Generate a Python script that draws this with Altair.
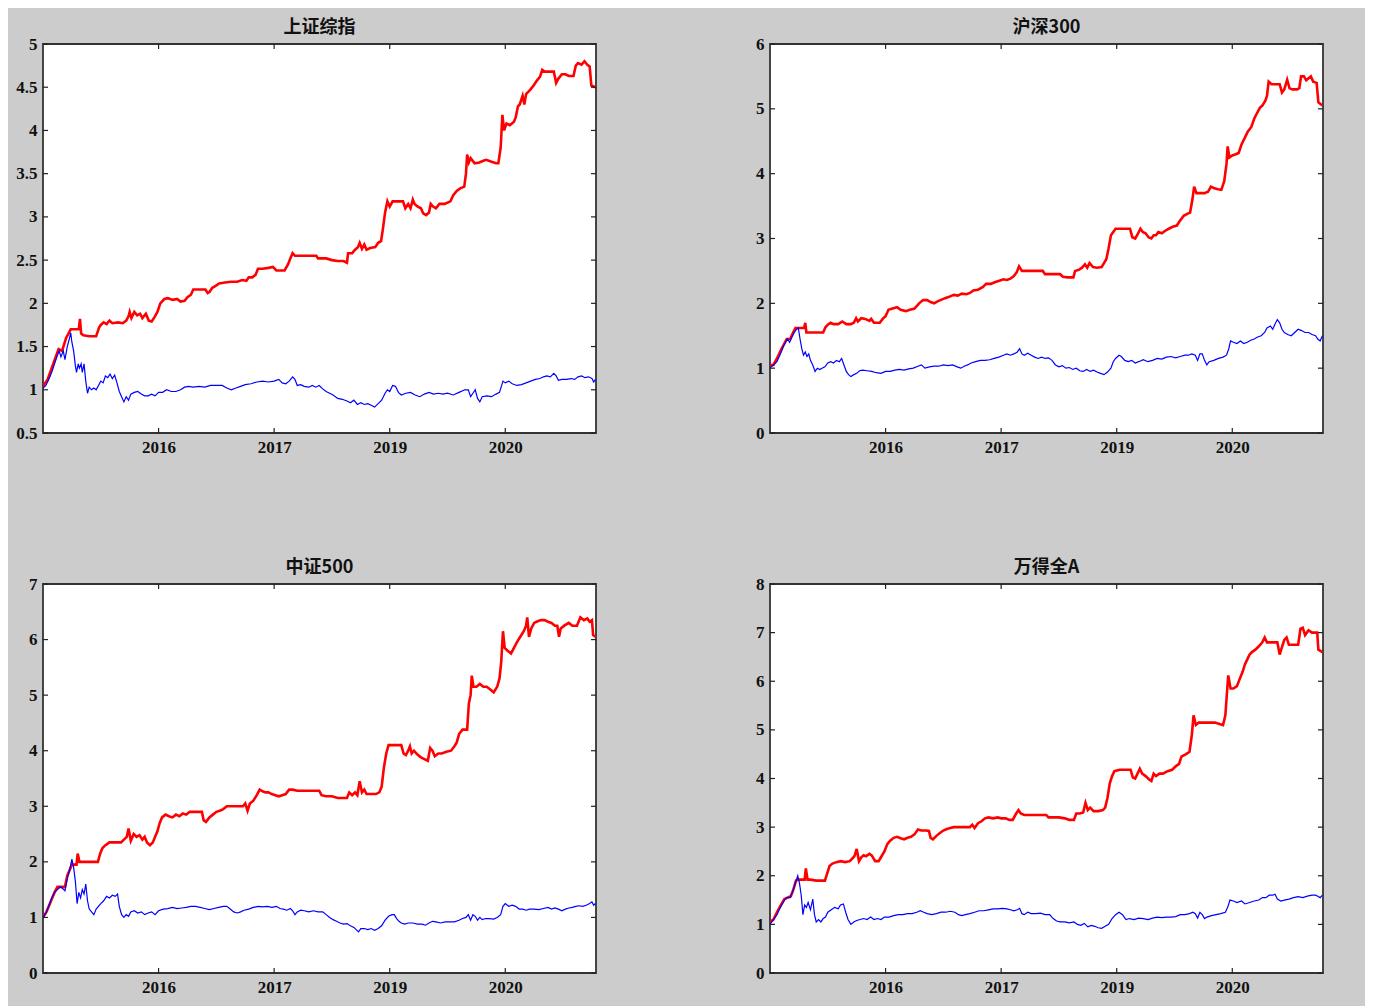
import altair as alt
import pandas as pd

TITLES = ["上证综指", "沪深300", "中证500", "万得全A"]
Y_DOMAINS = [[0.5, 5], [0, 6], [0, 7], [0, 8]]
Y_TICKS = [
    [0.5, 1, 1.5, 2, 2.5, 3, 3.5, 4, 4.5, 5],
    [0, 1, 2, 3, 4, 5, 6],
    [0, 1, 2, 3, 4, 5, 6, 7],
    [0, 1, 2, 3, 4, 5, 6, 7, 8],
]
X_TICKS = [200, 400, 600, 800]
X_LABELS = ["2016", "2017", "2019", "2020"]
X_MAX = 957

# ---- 上证综指 ----
SH_RED = [(0,1.04),(8,1.12),(15,1.25),(22,1.38),(27,1.47),(33,1.45),(40,1.6),(48,1.7),(55,1.7),(62,1.7),(64,1.82),(66,1.65),(70,1.63),(80,1.62),(92,1.62),(97,1.72),(100,1.75),(105,1.78),(110,1.76),(115,1.8),(120,1.77),(130,1.78),(138,1.77),(144,1.8),(148,1.85),(150,1.9),(153,1.83),(158,1.9),(163,1.86),(168,1.88),(172,1.83),(178,1.88),(183,1.8),(188,1.79),(193,1.84),(198,1.9),(203,2.0),(210,2.05),(216,2.06),(225,2.04),(232,2.05),(238,2.02),(245,2.03),(250,2.07),(256,2.1),(260,2.16),(270,2.16),(281,2.16),(285,2.12),(288,2.13),(293,2.18),(298,2.2),(305,2.23),(315,2.24),(325,2.25),(336,2.25),(345,2.27),(352,2.26),(356,2.3),(362,2.3),(368,2.33),(372,2.4),(380,2.4),(390,2.41),(398,2.42),(404,2.38),(412,2.38),(418,2.38),(424,2.45),(428,2.52),(432,2.58),(436,2.55),(450,2.55),(465,2.55),(473,2.55),(476,2.52),(490,2.52),(500,2.5),(510,2.49),(520,2.49),(526,2.47),(528,2.58),(535,2.58),(540,2.62),(545,2.65),(548,2.7),(552,2.63),(556,2.68),(560,2.62),(566,2.64),(575,2.65),(580,2.7),(585,2.72),(588,2.85),(592,3.05),(596,3.18),(600,3.12),(605,3.18),(623,3.18),(627,3.1),(632,3.15),(636,3.1),(640,3.2),(643,3.15),(648,3.12),(654,3.1),(658,3.04),(663,3.02),(668,3.05),(671,3.15),(675,3.12),(680,3.1),(686,3.15),(695,3.15),(705,3.18),(710,3.25),(716,3.3),(722,3.33),(729,3.35),(732,3.5),(734,3.72),(737,3.63),(740,3.68),(747,3.62),(755,3.63),(762,3.65),(767,3.66),(775,3.64),(784,3.62),(788,3.62),(792,3.8),(795,4.18),(798,4.0),(802,4.08),(808,4.06),(815,4.1),(818,4.15),(822,4.28),(825,4.3),(830,4.4),(833,4.3),(836,4.42),(843,4.47),(849,4.52),(855,4.58),(860,4.62),(864,4.7),(868,4.68),(875,4.68),(884,4.68),(888,4.55),(892,4.6),(898,4.65),(904,4.65),(910,4.63),(918,4.63),(922,4.75),(926,4.78),(932,4.76),(937,4.8),(942,4.76),(946,4.74),(949,4.52),(956,4.5)]
SH_BLUE = [(0,1.02),(5,1.05),(10,1.12),(15,1.2),(20,1.3),(25,1.4),(28,1.45),(31,1.38),(35,1.45),(38,1.35),(42,1.5),(46,1.6),(48,1.66),(50,1.55),(53,1.45),(56,1.28),(58,1.2),(61,1.3),(63,1.25),(66,1.3),(68,1.2),(71,1.3),(74,1.1),(77,0.96),(80,1.03),(84,1.0),(88,1.02),(92,1.0),(96,1.05),(100,1.1),(104,1.08),(108,1.16),(112,1.14),(116,1.18),(120,1.13),(124,1.17),(128,1.08),(132,0.98),(136,0.92),(140,0.86),(144,0.92),(148,0.88),(152,0.95),(158,0.97),(164,0.98),(170,0.95),(176,0.93),(182,0.93),(188,0.95),(194,0.93),(200,0.97),(207,0.97),(214,1.0),(222,0.98),(230,0.98),(238,1.0),(245,1.03),(252,1.04),(260,1.03),(270,1.04),(280,1.03),(290,1.05),(300,1.05),(310,1.05),(318,1.02),(326,1.0),(334,1.02),(342,1.04),(350,1.06),(360,1.07),(370,1.09),(380,1.1),(390,1.09),(400,1.1),(408,1.12),(414,1.08),(420,1.07),(426,1.1),(432,1.15),(436,1.12),(440,1.05),(446,1.06),(452,1.04),(460,1.03),(466,1.05),(472,1.03),(478,1.05),(484,1.01),(490,0.98),(496,0.96),(502,0.94),(510,0.9),(518,0.89),(526,0.87),(532,0.85),(538,0.88),(544,0.83),(550,0.85),(556,0.83),(562,0.84),(568,0.82),(574,0.8),(580,0.84),(586,0.88),(592,0.96),(596,1.0),(600,0.98),(605,1.05),(610,1.04),(615,0.97),(620,0.94),(628,0.96),(636,0.97),(644,0.94),(652,0.92),(660,0.95),(668,0.97),(676,0.95),(684,0.96),(692,0.95),(700,0.96),(710,0.94),(720,0.97),(730,1.0),(736,1.0),(740,0.92),(744,0.96),(748,1.0),(752,0.9),(756,0.86),(760,0.92),(768,0.93),(776,0.92),(784,0.95),(790,0.97),(796,1.1),(800,1.08),(806,1.1),(812,1.07),(820,1.05),(828,1.06),(836,1.08),(844,1.1),(852,1.12),(860,1.13),(866,1.15),(872,1.16),(878,1.15),(884,1.19),(888,1.16),(892,1.11),(898,1.12),(906,1.12),(914,1.13),(920,1.12),(926,1.15),(932,1.16),(938,1.14),(944,1.15),(950,1.13),(953,1.09),(956,1.12)]

# ---- 沪深300 ----
HS_RED = [(0,1.05),(6,1.05),(12,1.15),(20,1.3),(29,1.45),(35,1.45),(40,1.55),(44,1.62),(52,1.62),(59,1.62),(61,1.7),(63,1.55),(70,1.55),(80,1.55),(92,1.55),(96,1.63),(100,1.67),(105,1.7),(110,1.68),(118,1.68),(125,1.72),(132,1.68),(140,1.68),(145,1.7),(149,1.77),(152,1.72),(158,1.77),(165,1.76),(172,1.73),(175,1.76),(180,1.7),(186,1.7),(190,1.7),(195,1.76),(200,1.8),(205,1.9),(212,1.92),(220,1.94),(226,1.9),(235,1.88),(242,1.9),(250,1.92),(258,2.0),(265,2.05),(272,2.05),(278,2.02),(284,2.0),(290,2.03),(295,2.05),(303,2.08),(310,2.1),(318,2.13),(325,2.12),(332,2.15),(340,2.14),(346,2.16),(352,2.2),(360,2.21),(368,2.25),(374,2.3),(382,2.3),(390,2.33),(397,2.35),(404,2.37),(410,2.36),(416,2.38),(422,2.42),(427,2.48),(431,2.57),(436,2.5),(450,2.5),(465,2.5),(472,2.5),(476,2.45),(490,2.45),(502,2.45),(507,2.41),(515,2.4),(525,2.4),(528,2.5),(535,2.52),(540,2.55),(545,2.6),(549,2.55),(553,2.62),(559,2.56),(566,2.55),(574,2.56),(578,2.62),(582,2.68),(586,2.85),(590,3.05),(594,3.1),(598,3.15),(610,3.15),(623,3.15),(627,3.02),(632,3.0),(637,3.08),(641,3.15),(645,3.1),(650,3.08),(655,3.02),(660,3.0),(664,3.05),(668,3.05),(672,3.1),(678,3.08),(684,3.12),(690,3.15),(697,3.18),(704,3.2),(710,3.28),(716,3.35),(722,3.38),(727,3.4),(731,3.6),(734,3.8),(738,3.7),(745,3.7),(752,3.7),(758,3.72),(763,3.8),(768,3.78),(775,3.76),(781,3.75),(786,3.88),(790,4.15),(792,4.42),(795,4.25),(800,4.28),(806,4.3),(811,4.32),(816,4.45),(822,4.56),(827,4.65),(833,4.72),(838,4.85),(842,4.92),(848,5.02),(852,5.05),(857,5.12),(860,5.2),(863,5.42),(868,5.38),(876,5.38),(882,5.38),(886,5.25),(890,5.3),(895,5.45),(899,5.32),(904,5.3),(912,5.3),(916,5.32),(919,5.5),(924,5.5),(928,5.44),(932,5.47),(936,5.5),(940,5.42),(946,5.4),(949,5.1),(956,5.05)]
HS_BLUE = [(0,1.0),(6,1.05),(12,1.1),(18,1.22),(24,1.35),(30,1.45),(34,1.4),(38,1.48),(42,1.55),(46,1.6),(49,1.62),(52,1.45),(55,1.3),(58,1.2),(61,1.25),(64,1.18),(67,1.22),(70,1.12),(74,1.05),(78,0.95),(82,1.0),(86,0.98),(90,1.0),(95,1.02),(100,1.08),(105,1.1),(110,1.08),(115,1.12),(120,1.1),(124,1.15),(128,1.05),(132,0.95),(136,0.9),(140,0.87),(145,0.9),(150,0.92),(155,0.96),(160,0.97),(168,0.96),(176,0.95),(184,0.93),(192,0.92),(200,0.95),(208,0.95),(216,0.97),(224,0.98),(232,0.97),(240,0.99),(248,1.0),(256,1.03),(262,1.05),(268,1.0),(276,1.02),(284,1.03),(292,1.03),(300,1.05),(308,1.04),(316,1.05),(324,1.02),(330,1.0),(336,1.03),(342,1.05),(348,1.08),(356,1.1),(364,1.12),(372,1.12),(380,1.13),(388,1.15),(396,1.17),(404,1.2),(410,1.22),(416,1.2),(422,1.22),(428,1.25),(432,1.3),(436,1.22),(440,1.2),(446,1.23),(452,1.2),(458,1.17),(464,1.15),(470,1.17),(476,1.15),(482,1.16),(488,1.12),(494,1.05),(500,1.02),(506,1.04),(512,1.0),(518,1.01),(524,0.98),(530,1.0),(536,0.96),(542,0.95),(548,0.98),(554,0.95),(560,0.97),(566,0.94),(572,0.92),(578,0.9),(584,0.94),(590,1.0),(594,1.1),(598,1.15),(604,1.2),(608,1.18),(614,1.12),(620,1.1),(626,1.12),(632,1.08),(638,1.1),(646,1.13),(654,1.1),(662,1.12),(670,1.15),(678,1.14),(686,1.17),(694,1.18),(702,1.16),(710,1.18),(718,1.2),(724,1.2),(730,1.22),(736,1.2),(740,1.12),(744,1.22),(748,1.22),(752,1.12),(756,1.05),(760,1.1),(768,1.12),(776,1.15),(784,1.17),(790,1.2),(794,1.3),(797,1.42),(802,1.4),(808,1.38),(814,1.42),(820,1.38),(826,1.4),(832,1.43),(838,1.45),(844,1.48),(850,1.5),(856,1.55),(860,1.62),(866,1.65),(870,1.6),(874,1.68),(878,1.75),(882,1.7),(886,1.6),(890,1.55),(896,1.52),(902,1.5),(908,1.55),(914,1.6),(920,1.58),(926,1.55),(932,1.55),(938,1.52),(944,1.5),(948,1.45),(952,1.42),(956,1.5)]

# ---- 中证500 ----
ZZ_RED = [(0,1.0),(6,1.1),(12,1.25),(20,1.45),(25,1.55),(30,1.55),(38,1.55),(42,1.75),(46,1.85),(50,1.95),(55,1.95),(58,1.95),(60,2.15),(63,2.0),(66,2.0),(80,2.0),(95,2.0),(99,2.15),(103,2.25),(108,2.3),(115,2.35),(125,2.35),(135,2.35),(140,2.4),(145,2.45),(148,2.6),(152,2.38),(157,2.5),(162,2.45),(167,2.48),(172,2.4),(176,2.45),(180,2.35),(185,2.3),(190,2.35),(194,2.45),(198,2.55),(202,2.7),(206,2.8),(212,2.85),(218,2.82),(224,2.8),(230,2.85),(236,2.82),(242,2.87),(248,2.85),(254,2.9),(262,2.9),(270,2.9),(275,2.9),(278,2.75),(282,2.72),(288,2.8),(294,2.85),(300,2.9),(306,2.92),(312,2.95),(318,3.0),(328,3.0),(340,3.0),(346,3.0),(350,3.05),(354,2.92),(358,3.05),(364,3.1),(370,3.2),(375,3.3),(380,3.27),(385,3.25),(390,3.25),(396,3.22),(402,3.2),(408,3.18),(414,3.2),(420,3.22),(426,3.3),(432,3.3),(440,3.28),(450,3.28),(465,3.28),(478,3.28),(482,3.2),(490,3.18),(500,3.18),(510,3.15),(520,3.15),(526,3.15),(530,3.25),(535,3.2),(540,3.25),(544,3.2),(548,3.45),(552,3.25),(556,3.3),(560,3.22),(568,3.22),(576,3.22),(582,3.25),(586,3.35),(590,3.7),(594,3.95),(598,4.1),(606,4.1),(620,4.1),(624,3.95),(628,3.92),(632,4.0),(635,4.08),(638,3.95),(642,4.0),(648,3.93),(654,3.88),(660,3.85),(666,3.82),(670,4.05),(674,4.0),(678,3.9),(684,3.95),(690,3.95),(698,3.98),(706,4.0),(712,4.08),(716,4.15),(720,4.3),(726,4.38),(734,4.38),(737,4.85),(740,5.0),(742,5.35),(745,5.15),(750,5.15),(756,5.2),(762,5.15),(768,5.15),(774,5.1),(780,5.05),(786,5.15),(790,5.3),(793,5.6),(796,6.15),(799,5.85),(804,5.8),(810,5.75),(815,5.85),(820,5.95),(826,6.05),(832,6.15),(836,6.25),(838,6.4),(841,6.05),(845,6.2),(850,6.3),(856,6.33),(862,6.35),(868,6.35),(874,6.32),(880,6.3),(886,6.25),(890,6.25),(893,6.05),(896,6.2),(902,6.25),(910,6.3),(916,6.25),(924,6.25),(930,6.4),(936,6.35),(942,6.38),(946,6.32),(950,6.35),(952,6.08),(956,6.05)]
ZZ_BLUE = [(0,1.0),(5,1.08),(10,1.2),(15,1.35),(20,1.45),(25,1.5),(30,1.55),(34,1.52),(38,1.48),(42,1.7),(46,1.85),(50,2.05),(53,1.9),(56,1.65),(59,1.25),(62,1.45),(65,1.35),(68,1.5),(71,1.42),(74,1.6),(77,1.3),(80,1.15),(84,1.1),(88,1.05),(92,1.15),(96,1.2),(100,1.25),(105,1.3),(110,1.38),(115,1.35),(120,1.4),(125,1.38),(129,1.42),(132,1.2),(136,1.05),(140,1.0),(144,1.05),(148,1.02),(152,1.1),(158,1.12),(164,1.08),(170,1.1),(176,1.05),(182,1.08),(188,1.1),(194,1.05),(200,1.12),(208,1.15),(216,1.16),(224,1.18),(232,1.16),(240,1.17),(248,1.18),(256,1.2),(264,1.2),(272,1.18),(280,1.16),(288,1.14),(296,1.16),(304,1.18),(312,1.2),(318,1.2),(324,1.15),(330,1.1),(336,1.08),(342,1.1),(348,1.13),(356,1.15),(364,1.18),(372,1.2),(380,1.19),(388,1.2),(396,1.18),(404,1.2),(410,1.16),(416,1.15),(422,1.13),(428,1.16),(432,1.12),(436,1.05),(440,1.1),(446,1.13),(452,1.12),(460,1.1),(468,1.12),(476,1.1),(484,1.1),(490,1.05),(496,1.0),(502,0.96),(508,0.93),(514,0.9),(520,0.88),(526,0.89),(532,0.85),(538,0.82),(542,0.78),(546,0.74),(550,0.8),(556,0.8),(562,0.78),(568,0.8),(574,0.77),(580,0.8),(586,0.85),(592,0.95),(598,1.02),(604,1.05),(608,1.05),(612,0.98),(616,0.93),(620,0.9),(626,0.88),(632,0.9),(640,0.9),(648,0.88),(656,0.88),(662,0.86),(668,0.9),(674,0.93),(680,0.92),(688,0.9),(696,0.92),(704,0.92),(712,0.92),(720,0.95),(726,0.98),(732,1.0),(736,1.05),(740,0.95),(744,1.05),(748,1.02),(752,0.95),(756,1.0),(760,0.96),(766,0.98),(772,0.98),(780,0.97),(786,1.0),(792,1.05),(796,1.2),(800,1.25),(806,1.2),(812,1.22),(818,1.2),(824,1.15),(830,1.15),(836,1.13),(842,1.15),(850,1.15),(858,1.14),(866,1.16),(874,1.18),(880,1.15),(886,1.17),(892,1.15),(898,1.12),(904,1.15),(910,1.17),(916,1.18),(922,1.2),(928,1.21),(934,1.2),(940,1.22),(946,1.25),(950,1.28),(953,1.22),(956,1.25)]

# ---- 万得全A ----
WD_RED = [(0,1.05),(6,1.1),(12,1.25),(18,1.38),(25,1.52),(30,1.55),(36,1.58),(40,1.7),(45,1.9),(50,1.92),(56,1.92),(60,1.92),(62,2.15),(65,1.92),(70,1.92),(80,1.9),(90,1.9),(95,1.9),(99,2.05),(103,2.2),(108,2.25),(115,2.28),(122,2.3),(130,2.28),(138,2.3),(142,2.35),(146,2.4),(150,2.55),(154,2.3),(158,2.38),(162,2.42),(166,2.4),(172,2.45),(176,2.42),(182,2.3),(188,2.3),(192,2.38),(198,2.5),(203,2.65),(208,2.72),(214,2.78),(220,2.8),(226,2.77),(232,2.75),(238,2.78),(244,2.8),(250,2.85),(256,2.95),(262,2.93),(270,2.93),(275,2.92),(278,2.78),(282,2.75),(288,2.82),(294,2.88),(300,2.93),(306,2.96),(312,2.98),(318,3.0),(328,3.0),(338,3.0),(346,3.0),(350,3.05),(354,2.98),(360,3.08),(366,3.12),(372,3.18),(378,3.2),(386,3.18),(394,3.2),(400,3.18),(408,3.18),(414,3.15),(420,3.15),(426,3.28),(430,3.35),(434,3.28),(440,3.25),(450,3.25),(465,3.25),(478,3.25),(482,3.2),(490,3.2),(500,3.2),(510,3.18),(518,3.15),(526,3.15),(530,3.28),(536,3.28),(542,3.3),(546,3.5),(550,3.35),(554,3.4),(560,3.33),(568,3.33),(576,3.35),(580,3.4),(584,3.6),(588,3.9),(592,4.05),(596,4.15),(605,4.18),(616,4.18),(624,4.18),(628,4.02),(632,4.0),(636,4.1),(640,4.2),(644,4.1),(650,4.05),(656,3.98),(660,3.95),(664,4.1),(668,4.05),(674,4.1),(680,4.1),(688,4.15),(696,4.18),(702,4.25),(708,4.3),(712,4.45),(720,4.5),(726,4.55),(730,4.9),(733,5.3),(737,5.1),(742,5.15),(750,5.15),(760,5.15),(770,5.15),(778,5.12),(784,5.1),(788,5.3),(791,5.8),(793,6.12),(797,5.85),(802,5.85),(808,5.9),(813,6.05),(818,6.2),(822,6.35),(826,6.45),(830,6.55),(834,6.6),(840,6.65),(846,6.72),(852,6.8),(856,6.9),(860,6.8),(868,6.8),(878,6.8),(882,6.55),(886,6.7),(890,6.85),(894,6.9),(898,6.75),(906,6.75),(914,6.75),(918,7.08),(922,7.1),(926,6.95),(932,7.05),(938,7.0),(944,7.0),(947,7.0),(949,6.65),(956,6.6)]
WD_BLUE = [(0,1.0),(6,1.1),(12,1.2),(18,1.35),(25,1.5),(30,1.55),(35,1.55),(40,1.7),(44,1.85),(48,2.0),(51,1.85),(54,1.6),(57,1.2),(60,1.4),(63,1.35),(66,1.45),(70,1.3),(74,1.52),(77,1.2),(80,1.05),(84,1.1),(88,1.05),(92,1.12),(96,1.15),(100,1.25),(106,1.3),(112,1.35),(118,1.32),(122,1.4),(127,1.42),(131,1.25),(135,1.1),(140,1.0),(145,1.05),(150,1.08),(156,1.1),(162,1.12),(168,1.1),(174,1.15),(180,1.1),(186,1.12),(192,1.1),(198,1.15),(206,1.15),(214,1.18),(222,1.2),(230,1.2),(238,1.22),(246,1.22),(254,1.25),(260,1.28),(266,1.25),(272,1.22),(280,1.2),(288,1.22),(296,1.25),(304,1.25),(312,1.27),(320,1.25),(326,1.2),(332,1.18),(338,1.2),(346,1.22),(354,1.25),(362,1.28),(370,1.28),(378,1.3),(386,1.32),(394,1.32),(402,1.33),(410,1.32),(416,1.3),(422,1.28),(428,1.3),(432,1.33),(436,1.22),(440,1.2),(446,1.25),(452,1.22),(460,1.22),(468,1.23),(476,1.2),(484,1.2),(490,1.12),(496,1.07),(502,1.05),(510,1.05),(518,1.03),(526,1.05),(532,1.0),(538,0.98),(544,1.02),(550,0.95),(556,0.98),(562,0.96),(568,0.93),(574,0.92),(580,0.96),(586,1.0),(592,1.12),(598,1.2),(604,1.25),(610,1.2),(616,1.1),(622,1.12),(630,1.1),(638,1.13),(646,1.12),(654,1.1),(662,1.13),(670,1.15),(678,1.14),(686,1.15),(694,1.15),(702,1.16),(710,1.2),(718,1.2),(726,1.22),(732,1.25),(736,1.22),(740,1.13),(744,1.25),(748,1.2),(752,1.12),(756,1.15),(764,1.18),(772,1.2),(780,1.22),(788,1.25),(792,1.35),(796,1.5),(802,1.48),(808,1.45),(816,1.48),(822,1.42),(830,1.45),(838,1.48),(846,1.5),(852,1.55),(858,1.55),(864,1.6),(870,1.6),(874,1.62),(878,1.52),(884,1.48),(890,1.5),(898,1.52),(906,1.55),(914,1.57),(922,1.55),(930,1.58),(938,1.6),(944,1.6),(948,1.58),(952,1.55),(956,1.6)]

RED = [SH_RED, HS_RED, ZZ_RED, WD_RED]
BLUE = [SH_BLUE, HS_BLUE, ZZ_BLUE, WD_BLUE]

W, H = 553, 389
TICK_LEN = 5
LABEL_FONT = "Liberation Serif"
INK = "#111111"

label_expr = ("[" + ",".join(f"'{l}'" for l in X_LABELS) + "][indexof(["
              + ",".join(str(t) for t in X_TICKS) + "], datum.value)]")


def panel(i):
    red = pd.DataFrame(RED[i], columns=["idx", "v"])
    blue = pd.DataFrame(BLUE[i], columns=["idx", "v"])
    xt = pd.DataFrame({"t": X_TICKS})
    yt = pd.DataFrame({"t": Y_TICKS[i]})
    xs = alt.Scale(domain=[0, X_MAX], nice=False, zero=False)
    ys = alt.Scale(domain=Y_DOMAINS[i], nice=False, zero=False)
    xaxis = alt.Axis(values=X_TICKS, labelExpr=label_expr, title=None, grid=False,
                     domain=False, ticks=False, labelFont=LABEL_FONT, labelFontWeight="bold",
                     labelFontSize=17, labelPadding=6, labelColor=INK)
    yaxis = alt.Axis(values=Y_TICKS[i], format="~g", title=None, grid=False,
                     domain=False, ticks=False, labelFont=LABEL_FONT, labelFontWeight="bold",
                     labelFontSize=17, labelPadding=6, labelColor=INK)
    X = lambda f: alt.X(f, scale=xs, axis=xaxis, title=None)
    Y = lambda f: alt.Y(f, scale=ys, axis=yaxis, title=None)
    red_line = alt.Chart(red).mark_line(color="#ff0000", strokeWidth=2.6, clip=True).encode(
        x=X("idx:Q"), y=Y("v:Q"))
    blue_line = alt.Chart(blue).mark_line(color="#0000ff", strokeWidth=1.2, clip=True).encode(
        x=X("idx:Q"), y=Y("v:Q"))
    rule = dict(color="#222222", strokeWidth=1.2)
    left = alt.Chart(yt).mark_rule(**rule).encode(
        y=Y("t:Q"), x=alt.value(0), x2=alt.value(TICK_LEN))
    right = alt.Chart(yt).mark_rule(**rule).encode(
        y=Y("t:Q"), x=alt.value(W - TICK_LEN), x2=alt.value(W))
    top = alt.Chart(xt).mark_rule(**rule).encode(
        x=X("t:Q"), y=alt.value(0), y2=alt.value(TICK_LEN))
    bottom = alt.Chart(xt).mark_rule(**rule).encode(
        x=X("t:Q"), y=alt.value(H - TICK_LEN), y2=alt.value(H))
    return alt.layer(red_line, blue_line, left, right, top, bottom).properties(
        width=W, height=H,
        title=alt.TitleParams(TITLES[i], font="Noto Sans CJK SC", fontWeight="bold",
                              fontSize=18, offset=-2, color=INK))


chart = alt.concat(
    *[panel(i) for i in range(4)], columns=2,
    spacing={"row": 151, "column": 174}, bounds="flush",
).configure(
    background="#cccccc",
    padding={"left": 6, "top": 10, "right": 40, "bottom": 10},
).configure_view(fill="white", stroke="#333333", strokeWidth=1.8)

chart.save("out.html", embed_options={"renderer": "svg", "actions": False})
